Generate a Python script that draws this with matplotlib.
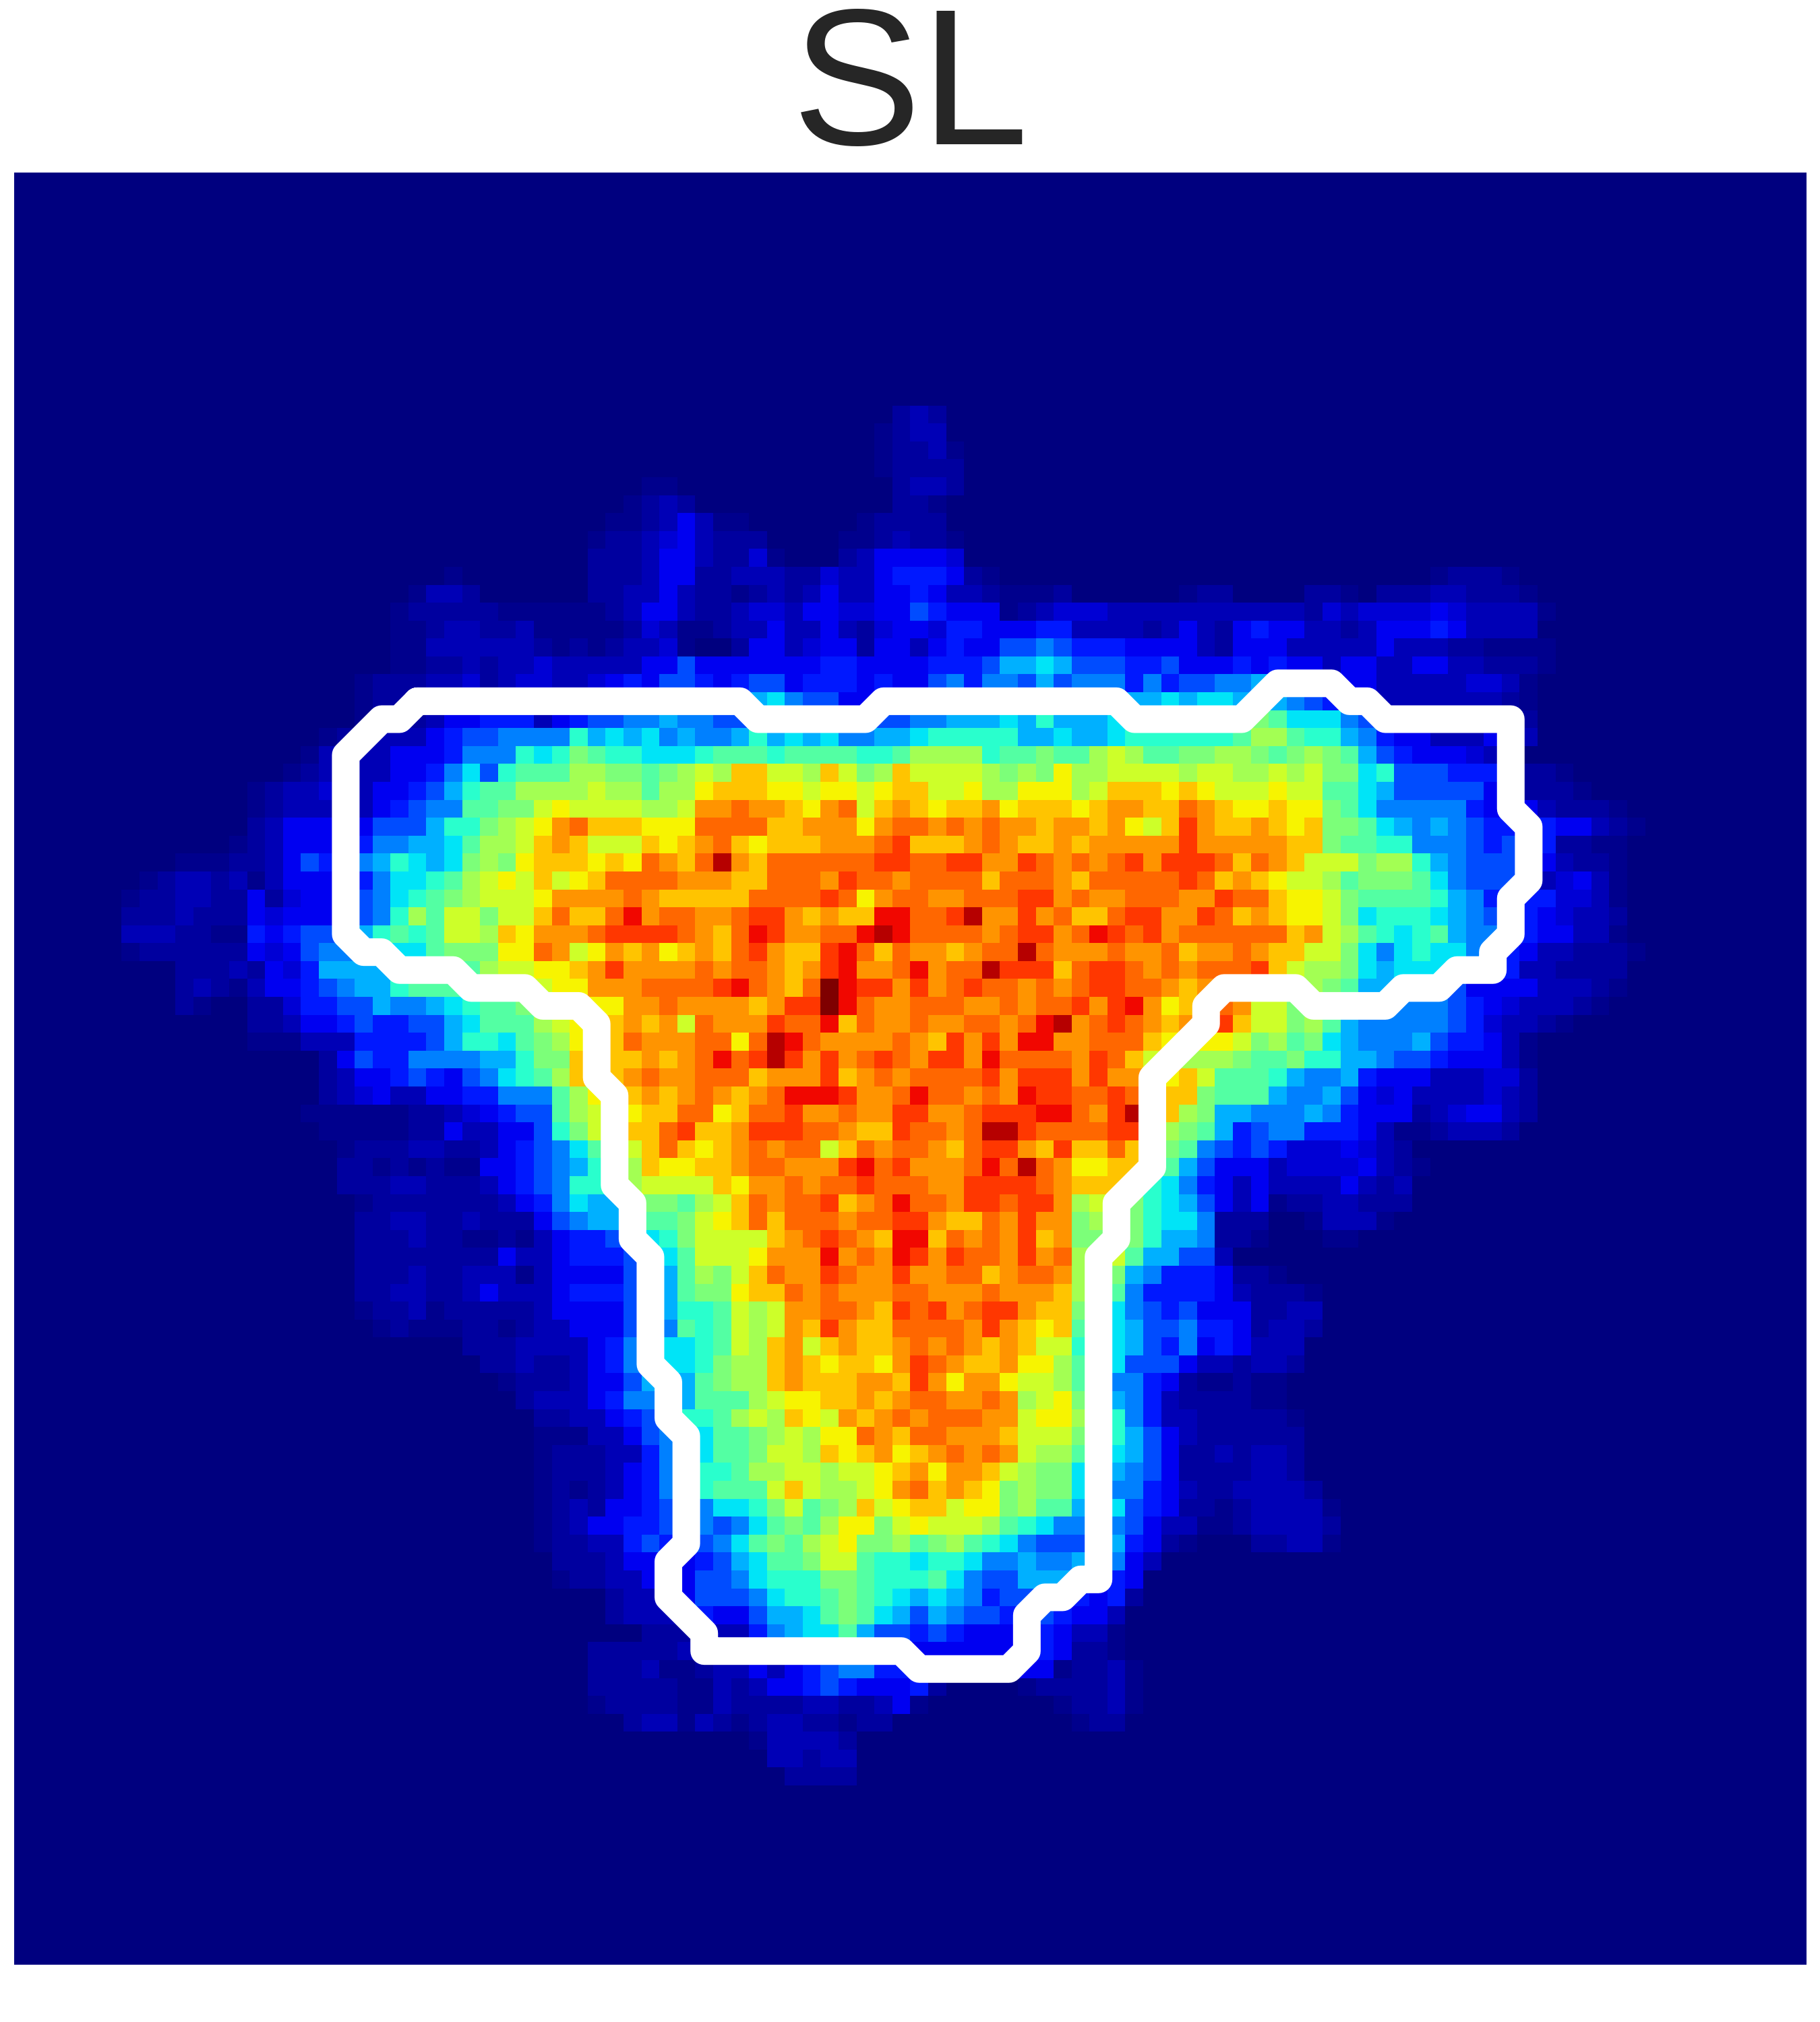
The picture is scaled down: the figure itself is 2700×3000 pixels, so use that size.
import numpy as np
import matplotlib
matplotlib.use("Agg")
import matplotlib.pyplot as plt

title_text = "SL"
level_symbols = "0zn1m23456789abcdefghijk"
level_values = [0, .012, .03, .05, .075, .10, .15, .20, .25, .30, .35, .40, .45, .50, .55, .60, .65, .70, .75, .80, .85, .90, .95, 1.0]

first_row = 13
row_start = [49, 48, 48, 48, 35, 34, 33, 32, 32, 24, 22, 21, 21, 21, 21, 19, 19, 19, 17, 16, 15, 13, 13, 13, 12, 9, 7, 6, 6, 6, 6, 9, 9, 9, 13, 13, 17, 17, 17, 16, 17, 18, 18, 18, 19, 19, 19, 19, 19, 19, 19, 20, 25, 26, 27, 28, 29, 29, 29, 29, 29, 29, 29, 29, 30, 30, 33, 33, 35, 32, 32, 32, 32, 34, 41, 42, 43]
row_cells = [
"n1n",
"zn11",
"znn1z",
"znnnn",
"zz000000000000n11n",
"zn1n00000000000nnz",
"zzn121zz000000znnnn",
"znn1m21nnn0000zzn1nnz",
"nnn1221nnmz000n12222m",
"z0000000 nnn122nn111nnm1123332nz 000000000000000000000000 znnnz",
"z11n000000 nn1121nnzn1n1211223211n zzzn000000znn0000nnz0nnn11nnnz",
"znnnnn zzzzz zn 1221nn1mm122mm2243222zn1mmm 11111111111 nm1mmmm2m1111z",
"zzn11nn1zz zzznm1zzn1 121121nm22 m332223311 11n121n232 211n122232 1111",
"zz111111nz nzn11mz00n 221m22n221 2322445433 322221n222 111112111n nzzzz",
"zznn1n11m1 1111224222 2222332222 3334667644 4334222323 2212211221 1nnnz",
"z nnn11mn1mm 11m2324432 3442333232 2453554645 5535344556 6777221111 1mm1z",
"z nn11111122 2222333344 4675442234 4444444445 5566767766 6543221111 111nz",
"z nnn1223331 2344556554 4444444444 5566676866 677777778a 9777543222 1111n",
"znn 1112344555 5867675655 6867675566 7888886676 678888889b b988653221 11221",
"z111 1222355587 8a98877789 9989999889 bbbb899a99 bcb99aabba 9aba964322 2m11",
"zn111 1223574899 9bbaa9abcb eeccbecabe ccccbabadb bccccbccbb cbcaa78444 3332nnz",
"zn11m11 22346899bb bbcbb9bbde eeddcddcde eccdbbdddb ceeededccc dcc9976444 4422nnnz",
"zn11111 2345599aac dccccbbcff gffedfgcef edeefdeeed effeegfedd edda975555 532221nnnz",
"n122222 444688abcd fgeeedddgg ggeefffdfg gfgfgffeff efdcehfeef edeaa97656 543333221n z",
"zn122223 556679bbce fecccedefg edeeefffgh eeefgfeefe fffffhffff feea998855 543433nnzz",
"zzznn1243 45 68767abade eededgfegj fegggggghh gghhffhgfg fghfhhhgeg fecccabb86 5444321nnz",
"zn11n1z122223 57789bcdce cdeggggfff eegggfhggf ggggegggfe ggggghgefe dccb9aaa97 544431m21z",
"znn11nn2nm22 34 5789abcccd ffffgfeeee egggghgdfg gffggghhfg ffgggffhgg eddca99998 653333mm1z",
"nnn1nnn2m222 34 58b9ccacce geegifggff ghhfefeeii gghjffhfge eghhffhgef eddca78887 654332m11n",
"111nnzz32344 46 8989ccbedf ffghhhhgfe gihffggiji ggggfghhfg ihghfggggg gefcb98789 655432211z",
"znnnnnn2m245 56 7779aaaddg fcdfefdefe ghfeehigeg ffefggjgff fgffgeffgf eecca75787 7543211nnnz",
"nnn1n2m36 66 677899bccd defhffffgf ggfefhiffg ifggjhhheg hhgfgfgggh ecbba76777 654311nnnn",
"n1nz1223 45 6 689999abcc ddfffggggh igfegkihhf hfghggfgfg hhggfeffed dcba966555 42222111nz",
"nz00nnm33 44 65567899aa bcddffgfff fefhhkigff gggffgfggh fhifdefgfc ca98765555 432m111nz",
"nn12234 334467999b cdeefefcgf ffhggiegff gffggfgijf ghgfefghec cab9655555 43m11nz",
"zzz1113 333468879a bdeegfffgg dgjigffffg fehfhfiiff gggeddddca b9a7655564 3321z",
"n24 335555668a aeeeefefgi ghjhfhfghg fhhfiggggf hgeccbbba9 9a88665443 2221z",
"n12 2343245789 beeefgffgg gefffhefgf gggghfhhhf hffedec999 8655632221 11mmn",
"n1m 2112233555 9bddefefgf efgiiihffg iggfgfihhg ghgfeea999 655642m211 11m1n",
"zzzz zznn1m2344 9bccdeeggd egghffgffh hffghhhiig fhjfeba665 55653222n1 m221n",
"zzz zznn211224 8acceeghee fhhhggfeeh ggfgjjhggg ghheba9634 5533321zzn 111n",
"zn nn11nn1234 579bcegede fgfggcegfg gfeghhfehe egeca95434 3mmm2m1n",
"nn znznzz2234 5689beddee fggfffhigh fffgigjgfd deec964222 1mmmm21nz",
"nn n11nnn1234 5889bcccce dffgfgghgg gffhhhhgfe eec8753212 111121n1",
"z nnnnnnn123 57668aa9bc egfgghefgi ggfhhghhfb cca8764212 znn11nnn",
"n n11nn1nnn2 4566899acd egegggfggh hfeegfhffa baa8775nnn 00z111z",
"n nn1nnzznz1 2334478acc ccefghgfei iegfgfhefa aba8665nnz 000zz",
"n nnnnnnn211 23334579cc cdfffifgfi hfhggfhfgb bc966441",
"n nn1nn111z1 22224569ba cegffhgffh ffggefggfb ba653332nnz",
"n n11nn12111 23334569aa deegfgfffg gfffgfffeb b95333321nnnz",
"z nn1znnnnn1 2222456889 cbcffggfeh ghfghhfeea a75434222nn11",
"znzzznnzn1 1222455989 cbcfehfeeg gggfhfede9 a76445332n11n",
"nnn11 1123557789 cbefcefeef gfgfefecc8 976435232111",
"nn1n n12356778a bbefedeedf hgfeefddb9 97444211n11n",
"znn n12246669a bbefeeeffe hfdffdccb9 95532nzznzz",
"n1 1123556699 9bcddeefef ggffgfbcda a6531nnnnzz",
"n n112346889 bcbedcfefg fgggffcddb b85311nnnnnz",
"z zz11245679 9abcbddgfe ggfffeccca b86421nnnnnn",
"z nnn1135679 9accbedefd efgfgfcbb9 a7642nn1n11n",
"z nnn1235688 9bbccbccde fdffecbaa7 76542nnnn11n",
"z nzn1235689 99cecbbcdf gefedabaa7 755321nn1111n",
"z n1n2234557 78ac9abecd eecddab996 67432nnzn1111z",
"z n122334554 579a9bddac dcccb98755 554211zzn1111n",
"z nn11343345 79a9bcdaab 9ab9875444 5632nz000nn11z",
"nnn1222234 6799acc988 7887556556 5521",
"znn1122244 57888aa988 8975446666 432",
"n111244 457889a987 6765344443 23n",
"n111232 246679a976 465443343221",
"nnn11 1356779644 34322223211z",
"nnnnn111 1234544332 222222232nnz",
"nnn1zzn1 1212345533 22222122znn1z",
"nnnnnzz1 n122343222 3n0000znnnn1z",
"znnnnzz1 nnnn11nn12 z0000000znn1z",
"n11z1n zn11nnznn0 000000000znn",
"z1111n",
"11n11",
"nnnn",
]

contour_cols = [22, 40, 41, 47, 48, 61, 62, 68, 70, 73, 74, 75, 76, 83, 83, 84, 84, 83, 83, 82, 82, 80, 79, 77, 76, 72, 71, 67, 66, 66, 63, 63, 61, 61, 60, 60, 59, 58, 57, 56, 56, 55, 50, 49, 38, 38, 36, 36, 37, 37, 36, 36, 35, 35, 34, 34, 33, 33, 32, 32, 31, 29, 28, 25, 24, 21, 20, 19, 18, 18, 20, 21, 22]
contour_rows = [29, 29, 30, 30, 29, 29, 30, 30, 28, 28, 29, 29, 30, 30, 35, 36, 39, 40, 42, 43, 44, 44, 45, 45, 46, 46, 45, 45, 46, 47, 50, 55, 57, 59, 60, 78, 78, 79, 79, 80, 82, 83, 83, 82, 82, 81, 79, 77, 76, 70, 69, 67, 66, 60, 59, 57, 56, 51, 50, 47, 46, 46, 45, 45, 44, 44, 43, 43, 42, 32, 30, 30, 29]

lookup = dict(zip(level_symbols, level_values))
grid = np.zeros((100, 100))
for i, (start, cells) in enumerate(zip(row_start, row_cells)):
    vals = [lookup[c] for c in cells.replace(" ", "")]
    grid[first_row + i, start:start + len(vals)] = vals

W, H = 2700, 3000
fig = plt.figure(figsize=(W / 300, H / 300), dpi=300, facecolor="white")
ax = fig.add_axes([21 / W, 1 - 2915 / H, 2659 / W, 2659 / H])
ax.imshow(grid, cmap="jet", vmin=0, vmax=1, interpolation="nearest", aspect="auto")
ax.plot(contour_cols, contour_rows, color="white", lw=9.84,
        solid_joinstyle="round", solid_capstyle="round")
ax.set_xlim(-0.5, 99.5)
ax.set_ylim(99.5, -0.5)
ax.set_xticks([])
ax.set_yticks([])
for s in ax.spines.values():
    s.set_visible(False)
ax.text(0.5, 1 + 42 / 2659, title_text, transform=ax.transAxes, ha="center", va="baseline",
        family=["Liberation Sans", "DejaVu Sans"], fontsize=69, color="#262626")
fig.savefig("out.png", dpi=300)
